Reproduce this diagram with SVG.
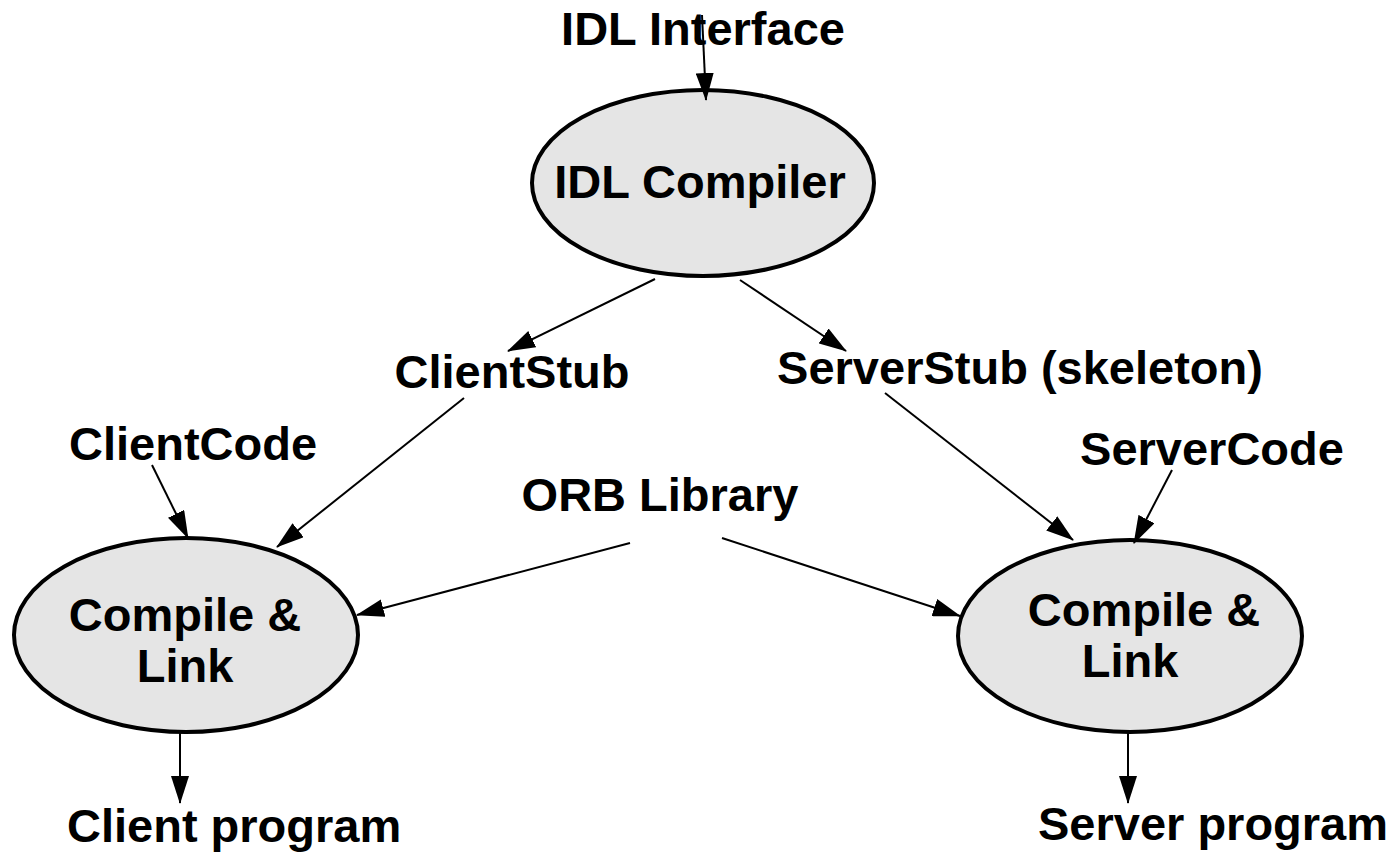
<svg xmlns="http://www.w3.org/2000/svg" width="1400" height="854" viewBox="0 0 1400 854">
<style>
.node ellipse{fill:#e5e5e5;stroke:#000;stroke-width:4}
text{font-family:"Liberation Sans",Arial,Helvetica,sans-serif;font-weight:bold;font-size:47px;fill:#000}
.c{text-anchor:middle}
#connectors line{stroke:#000;stroke-width:2;marker-end:url(#ah)}
</style>
<defs>
<marker id="ah" markerUnits="userSpaceOnUse" markerWidth="28" markerHeight="18" refX="27" refY="9" orient="auto">
<path d="M0,0 L28,9 L0,18 z" fill="#000"/>
</marker>
</defs>
<rect width="1400" height="854" fill="#fff"/>
<g id="idl-compiler" class="node">
<ellipse cx="703" cy="183" rx="171" ry="93"/>
<text class="c" x="700" y="198" font-size="46">IDL Compiler</text>
</g>
<g id="compile-link-client" class="node">
<ellipse cx="186" cy="635" rx="172" ry="97"/>
<text class="c" x="185" y="631" font-size="45">Compile &amp;</text>
<text class="c" x="185" y="682" font-size="45">Link</text>
</g>
<g id="compile-link-server" class="node">
<ellipse cx="1130" cy="636" rx="172" ry="96"/>
<text class="c" x="1144" y="626" font-size="45">Compile &amp;</text>
<text class="c" x="1130" y="677" font-size="45">Link</text>
</g>
<g id="idl-interface"><text class="c" x="703" y="45" font-size="46">IDL Interface</text></g>
<g id="client-stub"><text class="c" x="512" y="388">ClientStub</text></g>
<g id="server-stub"><text class="c" x="1020" y="384">ServerStub (skeleton)</text></g>
<g id="client-code"><text class="c" x="193" y="460">ClientCode</text></g>
<g id="server-code"><text class="c" x="1212" y="465">ServerCode</text></g>
<g id="orb-library"><text class="c" x="660" y="511">ORB Library</text></g>
<g id="client-program"><text x="67" y="842">Client program</text></g>
<g id="server-program"><text x="1038" y="840">Server program</text></g>
<g id="connectors">
<line x1="702" y1="15" x2="706" y2="100"/>
<line x1="655" y1="279" x2="508" y2="351"/>
<line x1="740" y1="280" x2="846" y2="351"/>
<line x1="464" y1="398" x2="277" y2="547"/>
<line x1="152" y1="465" x2="188" y2="538"/>
<line x1="630" y1="543" x2="357" y2="615"/>
<line x1="722" y1="538" x2="960" y2="616"/>
<line x1="885" y1="393" x2="1073" y2="540"/>
<line x1="1172" y1="470" x2="1134" y2="543"/>
<line x1="180" y1="732" x2="180" y2="803"/>
<line x1="1128" y1="732" x2="1128" y2="803"/>
</g>
</svg>
